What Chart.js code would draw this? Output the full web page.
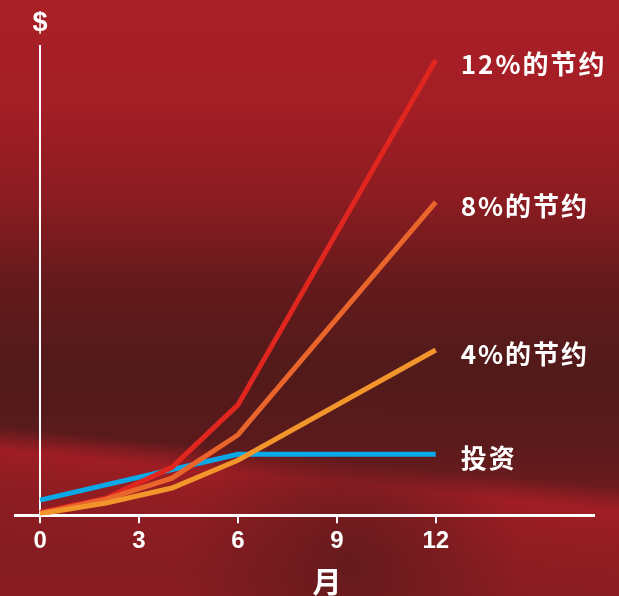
<!DOCTYPE html>
<html>
<head>
<meta charset="utf-8">
<script src="https://cdn.jsdelivr.net/npm/chart.js@4/dist/chart.umd.min.js"></script>
<style>
  html, body { margin: 0; padding: 0; background: #a61e25; }
  #wrap { width: 619px; height: 596px; }
</style>
</head>
<body>
<div id="wrap"><canvas id="myChart" width="619" height="596"></canvas></div>
<script>
// values (y in arbitrary $ units, 0..100)
var meses = [0, 2, 4, 6, 12];
var ahorro12 = [0.6, 3.6, 10.2, 23.5, 97.0];
var ahorro8 = [0.4, 3.4, 7.9, 17.1, 66.7];
var ahorro4 = [0.3, 2.6, 5.8, 11.7, 35.2];
var mesesInversion = [0, 6, 12];
var inversion = [3.2, 13.0, 13.0];
var ticksMeses = [0, 3, 6, 9, 12];
var etiquetas = ['4%的节约', '8%的节约', '12%的节约', '投资'];

function puntos(xs, ys) {
    var out = [];
    for (var i = 0; i < xs.length; i++) out.push({x: xs[i], y: ys[i]});
    return out;
}

var fondo = {
    id: 'fondo',
    beforeDraw: function(chart) {
        var ctx = chart.ctx, w = chart.width, h = chart.height;
        ctx.save();
        var g = ctx.createLinearGradient(0, 0, 0, h);
        g.addColorStop(0, '#aa1f26');
        g.addColorStop(0.18, '#a31e25');
        g.addColorStop(0.33, '#8c1c21');
        g.addColorStop(0.48, '#641a1c');
        g.addColorStop(0.62, '#521a1a');
        g.addColorStop(0.74, '#5a1a1c');
        g.addColorStop(0.88, '#7a1c20');
        g.addColorStop(1, '#801c20');
        ctx.fillStyle = g;
        ctx.fillRect(0, 0, w, h);
        // lighter streak, low on the left, rising to the right
        var s = ctx.createLinearGradient(310, 380, 290, 580);
        s.addColorStop(0, 'rgba(168,30,37,0)');
        s.addColorStop(0.38, 'rgba(168,30,37,0)');
        s.addColorStop(0.5, 'rgba(166,30,37,0.9)');
        s.addColorStop(0.62, 'rgba(160,30,36,0.75)');
        s.addColorStop(1, 'rgba(150,29,34,0.35)');
        ctx.fillStyle = s;
        ctx.fillRect(0, 0, w, h);
        // darker patch around bottom middle
        var r = ctx.createRadialGradient(350, 565, 10, 350, 565, 170);
        r.addColorStop(0, 'rgba(95,26,28,0.8)');
        r.addColorStop(1, 'rgba(95,26,28,0)');
        ctx.fillStyle = r;
        ctx.fillRect(0, 0, w, h);
        ctx.restore();
    }
};

var textos = {
    id: 'textos',
    afterDatasetsDraw: function(chart) {
        var ctx = chart.ctx;
        var xs = chart.scales.x, ys = chart.scales.y;
        ctx.save();
        ctx.fillStyle = '#ffffff';
        ctx.textBaseline = 'middle';
        ctx.textAlign = 'left';
        ctx.font = 'bold 26px "Noto Sans CJK SC", "Noto Sans", sans-serif';
        ctx.letterSpacing = '2px';
        chart.data.datasets.forEach(function(ds, i) {
            var meta = chart.getDatasetMeta(i);
            var last = meta.data[meta.data.length - 1];
            ctx.fillText(ds.label, last.x + 25, last.y + 4);
        });
        ctx.letterSpacing = '0px';
        ctx.textAlign = 'center';
        ctx.font = 'bold 27px "Liberation Sans", Arial, sans-serif';
        ctx.fillText('$', xs.getPixelForValue(0), ys.top - 22);
        ctx.font = 'bold 29px "Noto Sans CJK SC", sans-serif';
        ctx.fillText('月', xs.getPixelForValue(8.7), 582);
        ctx.restore();
    }
};

var ctx = document.getElementById('myChart');
var myChart = new Chart(ctx, {
    type: 'line',
    data: {
        datasets: [{
            label: etiquetas[0],
            data: puntos(meses, ahorro4),
            borderColor: '#f2962c',
            borderWidth: 5
        }, {
            label: etiquetas[1],
            data: puntos(meses, ahorro8),
            borderColor: '#e9652b',
            borderWidth: 5
        }, {
            label: etiquetas[2],
            data: puntos(meses, ahorro12),
            borderColor: '#e1261f',
            borderWidth: 5
        }, {
            label: etiquetas[3],
            data: puntos(mesesInversion, inversion),
            borderColor: '#0ba8e8',
            borderWidth: 5
        }]
    },
    options: {
        responsive: false,
        animation: false,
        devicePixelRatio: 1,
        layout: { padding: { top: 46, left: 15, right: 25, bottom: 36 } },
        elements: {
            point: { radius: 0 },
            line: { tension: 0, borderCapStyle: 'butt', borderJoinStyle: 'miter', fill: false }
        },
        plugins: {
            legend: { display: false },
            tooltip: { enabled: false }
        },
        scales: {
            x: {
                type: 'linear',
                position: 'bottom',
                min: -0.76,
                max: 16.8,
                afterBuildTicks: function(axis) {
                    axis.ticks = ticksMeses.map(function(v) { return {value: v}; });
                },
                ticks: {
                    color: '#ffffff',
                    padding: 4,
                    font: { family: '"Liberation Sans Narrow", "Liberation Sans", Arial', size: 24, weight: 'bold' }
                },
                grid: {
                    display: true,
                    drawOnChartArea: false,
                    drawTicks: true,
                    tickLength: 8,
                    color: '#ffffff',
                    lineWidth: 2
                },
                border: { display: true, color: '#ffffff', width: 3 }
            },
            y: {
                type: 'linear',
                position: { x: 0 },
                min: 0,
                max: 100,
                ticks: { display: false },
                grid: { display: false, drawTicks: false },
                border: { display: true, color: '#ffffff', width: 2 }
            }
        }
    },
    plugins: [fondo, textos]
});
</script>
</body>
</html>
